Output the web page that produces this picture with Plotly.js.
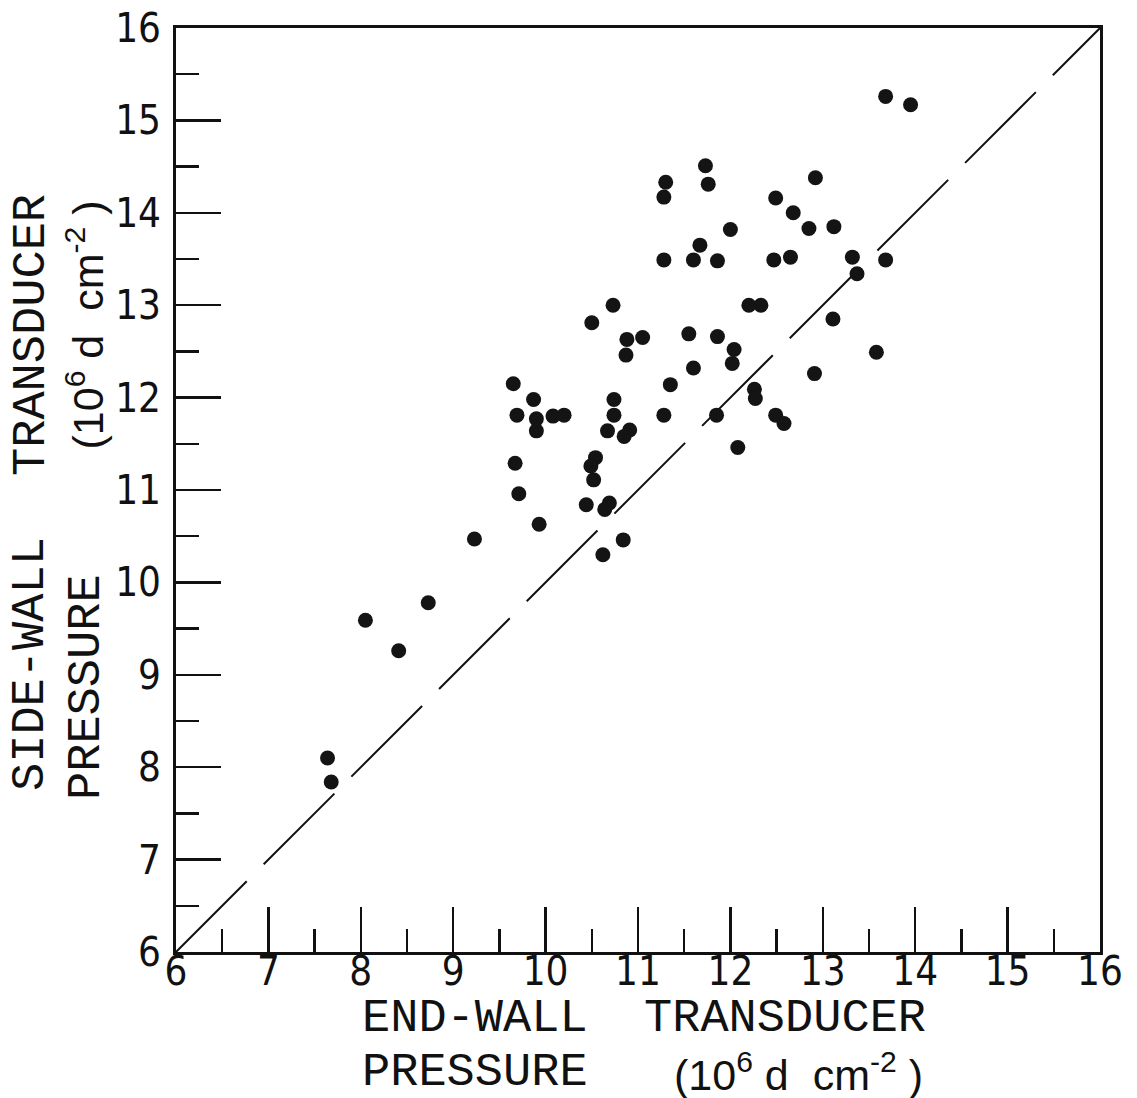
<!DOCTYPE html>
<html>
<head>
<meta charset="utf-8">
<script src="https://cdn.plot.ly/plotly-3.0.1.min.js"></script>
<style>
  html, body { margin: 0; padding: 0; background: #ffffff; }
  #chart { width: 1137px; height: 1098px; }
</style>
</head>
<body>
<div id="chart"></div>
<script>
// End-wall transducer pressure (10^6 d cm^-2)
const endWallPressure = [
  7.64, 7.68, 8.05, 8.41, 8.73, 9.23, 9.65, 9.69, 9.67, 9.71,
  9.93, 9.87, 9.90, 9.90, 10.08, 10.20, 10.50, 10.73, 10.44, 10.54,
  10.49, 10.52, 10.62, 10.64, 10.69, 10.67, 10.74, 10.74, 10.84, 10.85,
  10.91, 10.88, 10.87, 11.05, 11.28, 11.30, 11.28, 11.28, 11.35, 11.55,
  11.60, 11.60, 11.67, 11.73, 11.76, 11.86, 11.86, 11.85, 12.00, 12.04,
  12.02, 12.08, 12.20, 12.33, 12.26, 12.27, 12.49, 12.47, 12.49, 12.58,
  12.68, 12.65, 12.85, 12.92, 12.91, 13.12, 13.11, 13.32, 13.37, 13.58,
  13.68, 13.68, 13.95
];
// Side-wall transducer pressure (10^6 d cm^-2)
const sideWallPressure = [
  8.10, 7.84, 9.59, 9.26, 9.78, 10.47, 12.15, 11.81, 11.29, 10.96,
  10.63, 11.98, 11.77, 11.64, 11.80, 11.81, 12.81, 13.00, 10.84, 11.35,
  11.26, 11.11, 10.30, 10.79, 10.86, 11.64, 11.98, 11.81, 10.46, 11.58,
  11.65, 12.63, 12.46, 12.65, 14.17, 14.33, 13.49, 11.81, 12.14, 12.69,
  12.32, 13.49, 13.65, 14.51, 14.31, 13.48, 12.66, 11.81, 13.82, 12.52,
  12.37, 11.46, 13.00, 13.00, 12.09, 11.99, 14.16, 13.49, 11.81, 11.72,
  14.00, 13.52, 13.83, 14.38, 12.26, 13.85, 12.85, 13.52, 13.34, 12.49,
  15.26, 13.49, 15.17
];
// Line of equality
const equalityX = [6, 16];
const equalityY = [6, 16];
// Axis ticks
const tickValues = [6, 7, 8, 9, 10, 11, 12, 13, 14, 15, 16];
const tickLabels = ["6", "7", "8", "9", "10", "11", "12", "13", "14", "15", "16"];
// Axis title pieces
const xTitleWords = ["END-WALL", "TRANSDUCER", "PRESSURE"];
const yTitleWords = ["SIDE-WALL", "TRANSDUCER", "PRESSURE"];
const unitsText = "(10<sup>6</sup>\u00A0d\u00A0\u00A0cm<sup>-2</sup>\u00A0)";

const tickFont = { family: "'Liberation Sans Narrow', 'DejaVu Sans Condensed', 'Liberation Sans', sans-serif", size: 40, color: "#111" };
const wordFont = { family: "'Liberation Mono', 'DejaVu Sans Mono', monospace", size: 47, color: "#111" };
const unitFont = { family: "'Liberation Sans', 'DejaVu Sans', sans-serif", size: 43, color: "#111" };

const traces = [
  {
    x: equalityX, y: equalityY, type: "scatter", mode: "lines",
    line: { color: "#111", width: 2, dash: "100px,24px" },
    hoverinfo: "skip", showlegend: false
  },
  {
    x: endWallPressure, y: sideWallPressure, type: "scatter", mode: "markers",
    marker: { size: 15, color: "#141414", line: { width: 0 } },
    showlegend: false
  }
];

function axisCommon() {
  return {
    range: [6, 16],
    tickmode: "array",
    tickvals: tickValues,
    ticktext: tickLabels,
    ticks: "inside",
    ticklen: 45,
    tickwidth: 2.5,
    tickcolor: "#111",
    minor: { dtick: 0.5, tick0: 6, ticks: "inside", ticklen: 23, tickwidth: 2.5, tickcolor: "#111" },
    showline: true,
    linewidth: 3,
    linecolor: "#111",
    mirror: true,
    showgrid: false,
    zeroline: false,
    tickfont: tickFont,
    fixedrange: true
  };
}

const W = 924; // plot area pixel size
function px(x) { return (x - 176) / W; }
function py(y) { return (952 - y) / W; }

const annotations = [
  { text: xTitleWords[0], x: px(362), y: py(1018), xanchor: "left", yanchor: "middle", font: wordFont },
  { text: xTitleWords[1], x: px(644), y: py(1018), xanchor: "left", yanchor: "middle", font: wordFont },
  { text: xTitleWords[2], x: px(362), y: py(1099), xanchor: "left", yanchor: "bottom", font: wordFont },
  { text: unitsText, x: px(674), y: py(1099), xanchor: "left", yanchor: "bottom", font: unitFont },
  { text: yTitleWords[0], x: px(31), y: py(791), xanchor: "center", yanchor: "bottom", textangle: -90, font: wordFont },
  { text: yTitleWords[1], x: px(31), y: py(476), xanchor: "center", yanchor: "bottom", textangle: -90, font: wordFont },
  { text: yTitleWords[2], x: px(86), y: py(800), xanchor: "center", yanchor: "bottom", textangle: -90, font: wordFont },
  { text: unitsText, x: px(84), y: py(450), xanchor: "center", yanchor: "bottom", textangle: -90, font: unitFont }
].map(a => Object.assign({ xref: "paper", yref: "paper", showarrow: false, borderpad: 0, borderwidth: 0 }, a));

const layout = {
  width: 1137,
  height: 1098,
  margin: { l: 176, r: 37, t: 28, b: 146, pad: 0 },
  paper_bgcolor: "#ffffff",
  plot_bgcolor: "#ffffff",
  xaxis: Object.assign(axisCommon(), { ticklabelstandoff: -18 }),
  yaxis: Object.assign(axisCommon(), { ticklabelstandoff: 4 }),
  annotations: annotations,
  showlegend: false
};

Plotly.newPlot("chart", traces, layout, { displayModeBar: false, staticPlot: true });
</script>
</body>
</html>
